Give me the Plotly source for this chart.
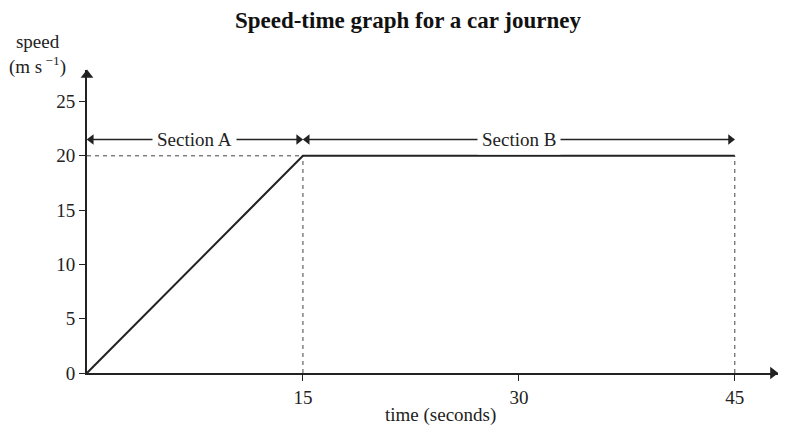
import plotly.graph_objects as go

# journey data
time_s = [0, 15, 45]
speed = [0, 20, 20]

x_ticks = [15, 30, 45]
y_ticks = [0, 5, 10, 15, 20, 25]

section_names = ["Section A", "Section B"]
section_start = [0, 15]
section_end = [15, 45]
section_level = 21.5

x_max = 48
y_max = 27.9

SERIF = "Liberation Serif, Times New Roman, serif"
INK = "#222222"

fig = go.Figure()

# dashed guide lines at the corners of the graph
fig.add_trace(go.Scatter(x=[time_s[0], time_s[1]], y=[speed[1], speed[1]], mode="lines",
                         line=dict(color="#444444", width=1, dash="4px,4px"),
                         hoverinfo="skip", showlegend=False))
for t, v in zip(time_s[1:], speed[1:]):
    fig.add_trace(go.Scatter(x=[t, t], y=[0, v], mode="lines",
                             line=dict(color="#444444", width=1, dash="4px,4px"),
                             hoverinfo="skip", showlegend=False))

fig.add_trace(go.Scatter(x=time_s, y=speed, mode="lines",
                         line=dict(color=INK, width=2), showlegend=False))

# double headed arrows with the section labels
gap = 0.3
for name, a, b in zip(section_names, section_start, section_end):
    fig.add_trace(go.Scatter(x=[a + gap, b - gap], y=[section_level] * 2, mode="lines",
                             line=dict(color=INK, width=1.3), hoverinfo="skip",
                             showlegend=False))
    fig.add_trace(go.Scatter(x=[a + gap, b - gap], y=[section_level] * 2, mode="markers",
                             marker=dict(symbol=["triangle-left", "triangle-right"],
                                         size=9, color=INK),
                             hoverinfo="skip", showlegend=False))
    fig.add_annotation(x=(a + b) / 2, y=section_level, xref="x", yref="y",
                       text=name, showarrow=False, bgcolor="white", borderpad=4,
                       font=dict(family=SERIF, size=19, color=INK))

# axis arrowheads
fig.add_trace(go.Scatter(x=[x_max - 0.35], y=[0], mode="markers", cliponaxis=False,
                         marker=dict(symbol="triangle-right", size=11, color=INK),
                         hoverinfo="skip", showlegend=False))
fig.add_trace(go.Scatter(x=[0], y=[y_max - 0.45], mode="markers", cliponaxis=False,
                         marker=dict(symbol="triangle-up", size=11, color=INK),
                         hoverinfo="skip", showlegend=False))

# axis titles
fig.add_annotation(x=0.511, y=-0.138, xref="paper", yref="paper", text="time (seconds)",
                   showarrow=False, yanchor="middle",
                   font=dict(family=SERIF, size=19, color=INK))
fig.add_annotation(x=-0.071, y=1.05, xref="paper", yref="paper", xanchor="center",
                   yanchor="middle", text="speed<br>(m s<sup> \u22121</sup>)",
                   showarrow=False, align="center",
                   font=dict(family=SERIF, size=19, color=INK))

fig.update_layout(
    width=778, height=417,
    margin=dict(l=79, r=8, t=62, b=52),
    plot_bgcolor="white", paper_bgcolor="white",
    title=dict(text="<b>Speed-time graph for a car journey</b>", x=0.514, xanchor="center",
               y=0.971, yanchor="middle",
               font=dict(family=SERIF, size=23, color="#111111")),
    font=dict(family=SERIF, size=19, color=INK),
)
fig.update_xaxes(range=[0, x_max], tickvals=x_ticks, ticks="outside", ticklen=6,
                 tickcolor=INK, tickwidth=1.3, showgrid=False, zeroline=False,
                 showline=True, linecolor=INK, linewidth=1.8)
fig.update_yaxes(range=[0, y_max], tickvals=y_ticks, ticks="outside", ticklen=6,
                 tickcolor=INK, tickwidth=1.3, showgrid=False, zeroline=False,
                 showline=True, linecolor=INK, linewidth=1.8)

fig.write_html("out.html")
